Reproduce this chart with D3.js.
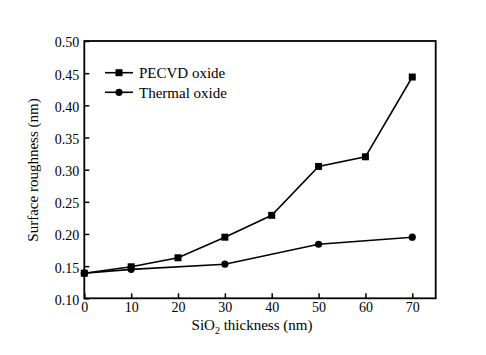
<!DOCTYPE html>
<html>
<head>
<meta charset="utf-8">
<script src="https://cdn.jsdelivr.net/npm/d3@7"></script>
<style>
  html, body { margin: 0; padding: 0; background: #fff; }
  svg { display: block; }
  text { font-family: "Liberation Serif", "Times New Roman", Times, serif; fill: #000; }
</style>
</head>
<body>
<svg id="chart" width="486" height="355"></svg>
<script>
const thickness = [0, 10, 20, 30, 40, 50, 60, 70];
const pecvd = [0.139, 0.149, 0.163, 0.195, 0.229, 0.305, 0.320, 0.444];
const thermalX = [0, 10, 30, 50, 70];
const thermal = [0.139, 0.145, 0.153, 0.184, 0.195];
const xTicks = [0, 10, 20, 30, 40, 50, 60, 70];
const yTicks = [0.10, 0.15, 0.20, 0.25, 0.30, 0.35, 0.40, 0.45, 0.50];
const seriesNames = ["PECVD oxide", "Thermal oxide"];

const svg = d3.select("#chart");
const L = 84.3, R = 435.7, T = 41, B = 298.3;
const x = d3.scaleLinear().domain([0, 75]).range([L, R]);
const y = d3.scaleLinear().domain([0.10, 0.50]).range([B, T]);

// axes with inward ticks
const xAxis = svg.append("g").attr("transform", `translate(0,${B})`)
  .call(d3.axisBottom(x).tickValues(xTicks).tickSize(-5).tickPadding(4).tickFormat(d3.format("d")));
const yAxis = svg.append("g").attr("transform", `translate(${L},0)`)
  .call(d3.axisLeft(y).tickValues(yTicks).tickSize(-5).tickPadding(5).tickFormat(d3.format(".2f")));
[xAxis, yAxis].forEach(g => {
  g.select(".domain").remove();
  g.attr("font-family", null);
  g.selectAll(".tick line").attr("stroke", "#000").attr("stroke-width", 1.5);
  g.selectAll(".tick text").style("font-family", "'Liberation Serif', 'Times New Roman', serif").style("font-size", "14px").attr("fill", "#000");
});
yAxis.selectAll(".tick text").attr("dy", "0.42em");
xAxis.selectAll(".tick text").attr("dy", "0.72em");

// frame
svg.append("rect").attr("x", L).attr("y", T).attr("width", R - L).attr("height", B - T)
  .attr("fill", "none").attr("stroke", "#000").attr("stroke-width", 1.8);

const line = d3.line().x(d => x(d[0])).y(d => y(d[1]));
const pData = thickness.map((t, i) => [t, pecvd[i]]);
const tData = thermalX.map((t, i) => [t, thermal[i]]);

svg.append("path").datum(tData).attr("d", line).attr("fill", "none").attr("stroke", "#000").attr("stroke-width", 1.6);
svg.append("path").datum(pData).attr("d", line).attr("fill", "none").attr("stroke", "#000").attr("stroke-width", 1.6);

const sq = 7;
svg.selectAll("rect.pm").data(pData).enter().append("rect").attr("class", "pm")
  .attr("x", d => x(d[0]) - sq / 2).attr("y", d => y(d[1]) - sq / 2)
  .attr("width", sq).attr("height", sq).attr("fill", "#000");
svg.selectAll("circle.tm").data(tData).enter().append("circle").attr("class", "tm")
  .attr("cx", d => x(d[0])).attr("cy", d => y(d[1])).attr("r", 3.6).attr("fill", "#000");

// legend
const legY = [72.7, 92.3];
seriesNames.forEach((name, i) => {
  const g = svg.append("g");
  g.append("line").attr("x1", 105).attr("x2", 133).attr("y1", legY[i]).attr("y2", legY[i])
    .attr("stroke", "#000").attr("stroke-width", 1.6);
  if (i === 0) {
    g.append("rect").attr("x", 119 - sq / 2).attr("y", legY[i] - sq / 2).attr("width", sq).attr("height", sq).attr("fill", "#000");
  } else {
    g.append("circle").attr("cx", 119).attr("cy", legY[i]).attr("r", 3.6).attr("fill", "#000");
  }
  g.append("text").attr("x", 139).attr("y", legY[i]).attr("dy", "0.35em")
    .style("font-size", "15px").text(name);
});

// axis titles
const xt = svg.append("text").attr("x", (L + R) / 2 - 8).attr("y", 330)
  .attr("text-anchor", "middle").style("font-size", "15px");
xt.append("tspan").text("SiO");
xt.append("tspan").attr("dy", 4).style("font-size", "10px").text("2");
xt.append("tspan").attr("dy", -4).text(" thickness (nm)");

svg.append("text").attr("transform", `translate(38,${170}) rotate(-90)`)
  .attr("text-anchor", "middle").style("font-size", "15px").text("Surface roughness (nm)");
</script>
</body>
</html>
